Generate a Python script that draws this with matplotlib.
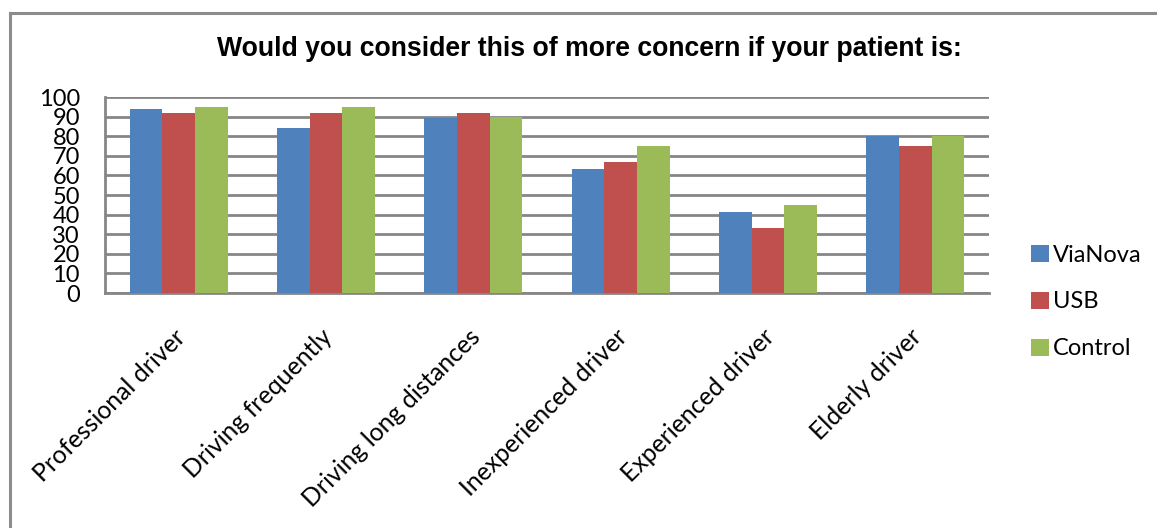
import matplotlib
matplotlib.use("Agg")
import matplotlib.pyplot as plt
import matplotlib.transforms as mtransforms
from matplotlib.patches import Patch
from matplotlib.lines import Line2D
import numpy as np

categories = ["Professional driver", "Driving frequently", "Driving long distances",
              "Inexperienced driver", "Experienced driver", "Elderly driver"]
vianova = [93.8, 84.4, 89.4, 63.3, 41.2, 80.0]
usb = [91.7, 91.7, 91.7, 66.7, 33.3, 75.0]
control = [95.0, 95.0, 90.0, 75.0, 45.0, 80.0]
series_names = ["ViaNova", "USB", "Control"]
colors = ["#4F81BD", "#C0504D", "#9BBB59"]
yticks = list(range(0, 101, 10))

W, H = 1157, 528
fig = plt.figure(figsize=(W / 100, H / 100), dpi=100)
fig.patch.set_facecolor("white")

# outer chart frame (left and top edges)
frame_color = "#8C8C8C"
fig.add_artist(Line2D([10 / W, 10 / W], [0, 1 - 13 / H], transform=fig.transFigure,
                      color=frame_color, lw=2.2))
fig.add_artist(Line2D([10 / W, 1], [1 - 13 / H, 1 - 13 / H], transform=fig.transFigure,
                      color=frame_color, lw=2.2))

left, right, top, bottom = 105, 989, 97, 293
ax = fig.add_axes([left / W, 1 - bottom / H, (right - left) / W, (bottom - top) / H])

x = np.arange(len(categories))
bw = 1 / 4.5
for i, (vals, c) in enumerate(zip([vianova, usb, control], colors)):
    ax.bar(x + (i - 1) * bw, vals, width=bw, color=c, edgecolor="none", zorder=3)

ax.set_xlim(-0.5, len(categories) - 0.5)
ax.set_ylim(0, 100)
ax.set_yticks(yticks)
ax.set_yticklabels([str(t) for t in yticks], fontfamily="Lato", fontsize=17)
ax.tick_params(axis="y", length=0, pad=18)
ax.yaxis.grid(True, color="#868686", lw=2, zorder=0)
ax.set_axisbelow(True)

for s in ["top", "right"]:
    ax.spines[s].set_visible(False)
for s in ["left", "bottom"]:
    ax.spines[s].set_color("#868686")
    ax.spines[s].set_linewidth(2)

ax.set_xticks(x)
ax.set_xticklabels(categories, rotation=45, ha="right", va="center",
                   rotation_mode="anchor", fontfamily="Lato", fontsize=17.8)
ax.tick_params(axis="x", length=0, pad=29)
offset = mtransforms.ScaledTranslation(3 / 100, 0, fig.dpi_scale_trans)
for lbl in ax.get_xticklabels():
    lbl.set_transform(lbl.get_transform() + offset)

fig.text(589 / W, 1 - 49 / H, "Would you consider this of more concern if your patient is:",
         ha="center", va="center", fontfamily="Liberation Sans", fontweight="bold",
         fontsize=19.2)

handles = [Patch(facecolor=c, edgecolor="none") for c in colors]
fig.legend(handles, series_names, loc="center left",
           bbox_to_anchor=(1022 / W, 1 - 302 / H), frameon=False,
           prop={"family": "Lato", "size": 17}, handlelength=0.75, handleheight=0.75,
           handletextpad=0.15, labelspacing=1.1, borderaxespad=0)

fig.savefig("out.png", dpi=100, facecolor="white")
